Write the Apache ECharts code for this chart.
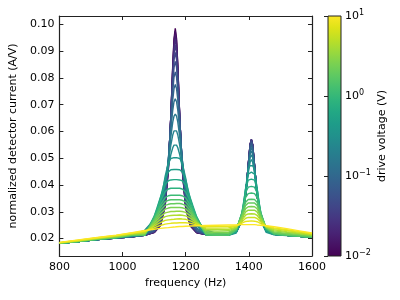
<!DOCTYPE html>
<html><head><meta charset="utf-8">
<script src="https://cdn.jsdelivr.net/npm/echarts@6/dist/echarts.min.js"></script>
<style>html,body{margin:0;padding:0;background:#fff}#c{width:400px;height:300px}</style>
</head><body><div id="c"></div>
<script>
// frequency grid (Hz)
const freq = [800,860,920,980,1030,1070,1100,1120,1135,1145,1153,1159,1163,1167,1171,1175,1181,1189,1200,1215,1235,1265,1300,1335,1360,1378,1390,1398,1404,1408,1412,1418,1426,1438,1455,1480,1520,1560,1600];
// drive voltages (V), one per curve
const voltage = [0.01,0.0132,0.0174,0.0229,0.0302,0.0398,0.0525,0.0692,0.0912,0.120,0.158,0.209,0.275,0.363,0.479,0.631,0.832,1.10,1.45,1.91,2.51,3.31,4.37,5.75,7.59,10.0];
// normalized detector current (A/V) per drive voltage
const v00 = [.0182,.0189,.0196,.0202,.0207,.0212,.0222,.0249,.0322,.0456,.0658,.0847,.0947,.0985,.0947,.0847,.0658,.0456,.0314,.0247,.0222,.0215,.0213,.0213,.0225,.0268,.0362,.0474,.0551,.0569,.0551,.0474,.0362,.0268,.0228,.0216,.0212,.0209,.0206];
const v01 = [.0182,.0189,.0196,.0202,.0207,.0212,.0223,.0250,.0324,.0458,.0657,.0841,.0938,.0975,.0938,.0841,.0657,.0458,.0316,.0247,.0222,.0215,.0213,.0213,.0225,.0268,.0362,.0474,.0551,.0569,.0551,.0474,.0362,.0268,.0228,.0216,.0212,.0209,.0206];
const v02 = [.0182,.0189,.0196,.0202,.0207,.0212,.0223,.0251,.0327,.0461,.0657,.0835,.0927,.0962,.0927,.0835,.0657,.0461,.0319,.0249,.0223,.0215,.0213,.0213,.0225,.0268,.0362,.0474,.0551,.0569,.0551,.0474,.0362,.0268,.0228,.0216,.0212,.0209,.0206];
const v03 = [.0182,.0189,.0196,.0202,.0207,.0212,.0224,.0253,.0331,.0465,.0657,.0826,.0912,.0945,.0912,.0826,.0657,.0465,.0323,.0251,.0223,.0215,.0213,.0213,.0225,.0268,.0362,.0474,.0551,.0569,.0551,.0474,.0362,.0268,.0228,.0216,.0212,.0209,.0206];
const v04 = [.0182,.0189,.0196,.0202,.0207,.0213,.0225,.0256,.0336,.0470,.0654,.0812,.0892,.0922,.0892,.0812,.0654,.0470,.0327,.0253,.0224,.0215,.0213,.0213,.0225,.0268,.0362,.0474,.0551,.0569,.0551,.0474,.0362,.0268,.0228,.0216,.0212,.0209,.0206];
const v05 = [.0182,.0189,.0196,.0202,.0207,.0213,.0226,.0259,.0342,.0475,.0651,.0797,.0868,.0895,.0868,.0797,.0651,.0475,.0334,.0257,.0226,.0215,.0213,.0213,.0225,.0268,.0362,.0474,.0551,.0569,.0551,.0474,.0362,.0268,.0228,.0216,.0212,.0209,.0206];
const v06 = [.0182,.0189,.0196,.0202,.0207,.0214,.0228,.0264,.0350,.0481,.0645,.0776,.0839,.0862,.0839,.0776,.0645,.0481,.0341,.0261,.0227,.0215,.0213,.0214,.0225,.0268,.0362,.0472,.0546,.0564,.0546,.0472,.0362,.0268,.0229,.0216,.0212,.0209,.0206];
const v07 = [.0182,.0189,.0196,.0202,.0207,.0215,.0231,.0271,.0361,.0488,.0638,.0751,.0803,.0822,.0803,.0751,.0638,.0488,.0352,.0267,.0230,.0216,.0213,.0214,.0226,.0270,.0363,.0470,.0541,.0558,.0541,.0470,.0363,.0270,.0229,.0216,.0212,.0209,.0206];
const v08 = [.0182,.0189,.0196,.0203,.0208,.0216,.0235,.0279,.0373,.0494,.0625,.0718,.0760,.0775,.0760,.0718,.0625,.0494,.0363,.0276,.0234,.0217,.0213,.0214,.0227,.0272,.0365,.0467,.0534,.0550,.0534,.0467,.0365,.0272,.0230,.0216,.0212,.0209,.0206];
const v09 = [.0182,.0189,.0196,.0203,.0208,.0218,.0241,.0290,.0385,.0497,.0606,.0679,.0711,.0722,.0711,.0679,.0606,.0497,.0376,.0286,.0239,.0219,.0214,.0215,.0229,.0275,.0366,.0464,.0526,.0540,.0526,.0464,.0366,.0276,.0232,.0217,.0212,.0209,.0206];
const v10 = [.0182,.0189,.0196,.0203,.0209,.0221,.0248,.0303,.0397,.0494,.0580,.0635,.0657,.0665,.0657,.0635,.0580,.0494,.0388,.0299,.0247,.0222,.0215,.0216,.0231,.0278,.0368,.0459,.0515,.0528,.0515,.0459,.0368,.0279,.0233,.0218,.0212,.0209,.0206];
const v11 = [.0182,.0189,.0196,.0204,.0211,.0225,.0258,.0317,.0405,.0484,.0549,.0587,.0602,.0607,.0602,.0587,.0549,.0484,.0398,.0313,.0256,.0226,.0216,.0217,.0233,.0282,.0369,.0453,.0502,.0513,.0502,.0452,.0369,.0283,.0235,.0218,.0212,.0209,.0206];
const v12 = [.0182,.0189,.0197,.0204,.0213,.0231,.0270,.0331,.0407,.0469,.0514,.0539,.0549,.0552,.0549,.0539,.0514,.0469,.0402,.0327,.0268,.0232,.0218,.0219,.0236,.0287,.0370,.0444,.0485,.0495,.0485,.0444,.0370,.0287,.0238,.0219,.0213,.0210,.0206];
const v13 = [.0182,.0189,.0196,.0203,.0209,.0212,.0252,.0329,.0433,.0483,.0499,.0502,.0502,.0502,.0502,.0502,.0499,.0483,.0426,.0323,.0250,.0214,.0212,.0212,.0221,.0266,.0387,.0461,.0472,.0472,.0472,.0461,.0387,.0267,.0223,.0214,.0211,.0209,.0206];
const v14 = [.0182,.0189,.0196,.0203,.0210,.0212,.0270,.0352,.0424,.0449,.0457,.0458,.0458,.0458,.0458,.0458,.0457,.0449,.0420,.0346,.0268,.0214,.0212,.0212,.0223,.0279,.0390,.0441,.0447,.0448,.0447,.0441,.0390,.0279,.0227,.0215,.0212,.0209,.0206];
const v15 = [.0182,.0189,.0197,.0204,.0212,.0212,.0282,.0354,.0401,.0416,.0419,.0420,.0420,.0420,.0420,.0420,.0419,.0416,.0399,.0350,.0280,.0214,.0212,.0212,.0227,.0294,.0387,.0418,.0422,.0422,.0422,.0418,.0386,.0294,.0232,.0216,.0212,.0209,.0206];
const v16 = [.0182,.0189,.0197,.0204,.0213,.0212,.0282,.0341,.0376,.0385,.0388,.0388,.0388,.0388,.0388,.0388,.0388,.0385,.0374,.0339,.0280,.0214,.0212,.0212,.0230,.0297,.0372,.0392,.0395,.0395,.0395,.0392,.0371,.0297,.0235,.0217,.0212,.0209,.0206];
const v17 = [.0182,.0189,.0197,.0204,.0212,.0212,.0276,.0326,.0353,.0360,.0362,.0362,.0362,.0362,.0362,.0362,.0362,.0360,.0352,.0324,.0274,.0214,.0212,.0212,.0232,.0296,.0354,.0368,.0370,.0370,.0370,.0368,.0354,.0296,.0237,.0217,.0212,.0209,.0206];
const v18 = [.0182,.0189,.0197,.0204,.0212,.0212,.0273,.0316,.0338,.0343,.0345,.0345,.0345,.0345,.0345,.0345,.0345,.0343,.0337,.0314,.0271,.0214,.0212,.0212,.0233,.0292,.0336,.0346,.0347,.0347,.0347,.0346,.0336,.0292,.0239,.0218,.0212,.0209,.0206];
const v19 = [.0183,.0190,.0198,.0205,.0213,.0215,.0268,.0305,.0324,.0328,.0330,.0330,.0330,.0331,.0331,.0331,.0331,.0329,.0324,.0304,.0268,.0219,.0217,.0218,.0236,.0286,.0324,.0333,.0333,.0333,.0333,.0333,.0324,.0286,.0240,.0222,.0216,.0212,.0208];
const v20 = [.0183,.0191,.0199,.0207,.0215,.0217,.0262,.0294,.0310,.0314,.0316,.0316,.0316,.0316,.0316,.0316,.0316,.0315,.0311,.0295,.0264,.0224,.0223,.0223,.0238,.0281,.0312,.0319,.0320,.0320,.0320,.0319,.0312,.0280,.0242,.0225,.0219,.0215,.0210];
const v21 = [.0184,.0192,.0200,.0208,.0216,.0220,.0257,.0283,.0296,.0299,.0301,.0301,.0301,.0302,.0302,.0302,.0302,.0301,.0298,.0285,.0261,.0229,.0228,.0229,.0241,.0275,.0300,.0306,.0306,.0306,.0306,.0306,.0300,.0274,.0243,.0229,.0223,.0218,.0212];
const v22 = [.0184,.0192,.0201,.0209,.0218,.0222,.0251,.0271,.0282,.0285,.0286,.0287,.0287,.0287,.0287,.0287,.0288,.0287,.0285,.0276,.0258,.0234,.0234,.0234,.0243,.0269,.0288,.0292,.0293,.0293,.0293,.0292,.0287,.0268,.0244,.0233,.0226,.0220,.0215];
const v23 = [.0185,.0193,.0202,.0210,.0219,.0225,.0246,.0260,.0268,.0270,.0271,.0272,.0272,.0273,.0273,.0273,.0274,.0273,.0272,.0266,.0255,.0239,.0239,.0240,.0246,.0263,.0276,.0279,.0279,.0279,.0279,.0279,.0275,.0262,.0245,.0237,.0230,.0223,.0217];
const v24 = [.0185,.0194,.0203,.0212,.0221,.0227,.0240,.0249,.0254,.0256,.0257,.0258,.0258,.0258,.0258,.0258,.0259,.0259,.0259,.0257,.0251,.0244,.0245,.0245,.0248,.0258,.0264,.0265,.0266,.0266,.0266,.0265,.0263,.0256,.0247,.0240,.0233,.0226,.0219];
const v25 = [.0186,.0195,.0204,.0213,.0222,.0230,.0235,.0238,.0240,.0241,.0242,.0243,.0243,.0244,.0244,.0244,.0245,.0245,.0246,.0247,.0248,.0249,.0250,.0251,.0251,.0252,.0252,.0252,.0252,.0252,.0252,.0252,.0251,.0250,.0248,.0244,.0237,.0229,.0221];
const curves = [v00,v01,v02,v03,v04,v05,v06,v07,v08,v09,v10,v11,v12,v13,v14,v15,v16,v17,v18,v19,v20,v21,v22,v23,v24,v25];

// tick labels
const xTicks = [800,1000,1200,1400,1600];
const yTicks = [0.02,0.03,0.04,0.05,0.06,0.07,0.08,0.09,0.10];
const cbarTicks = [0.01,0.1,1,10];
const cbarExps = ['\u22122','\u22121','0','1'];
const cbarMinor = [0.02,0.03,0.04,0.05,0.06,0.07,0.08,0.09,0.2,0.3,0.4,0.5,0.6,0.7,0.8,0.9,2,3,4,5,6,7,8,9];

// viridis colour anchors (style)
const viridis = ['#440154','#471365','#482475','#463480','#414487','#3b528b','#355f8d','#2f6c8e','#2a788e','#25848e','#21918c','#1e9c89','#22a884','#2fb47c','#44bf70','#5ec962','#7ad151','#9bd93c','#bddf26','#dfe318','#fde725'];
function hex(c){return [1,3,5].map(i=>parseInt(c.substr(i,2),16));}
function vir(t){
  t=Math.max(0,Math.min(1,t));const n=viridis.length-1;const p=t*n;const i=Math.min(n-1,Math.floor(p));const f=p-i;
  const a=hex(viridis[i]),b=hex(viridis[i+1]);
  return 'rgb('+a.map((v,j)=>Math.round(v+(b[j]-v)*f)).join(',')+')';
}
const FONT='DejaVu Sans';
const ink='#222';
const chart = echarts.init(document.getElementById('c'), null, {renderer:'canvas'});

const lineSeries = curves.map((arr,k)=>({
  type:'line', xAxisIndex:0, yAxisIndex:0, showSymbol:false, symbol:'none', silent:true,
  data: freq.map((x,i)=>[x,arr[i]]),
  lineStyle:{width:1.4, color: vir((Math.log10(voltage[k])+2)/3)},
  z:2
}));

const stops = viridis.map((c,i)=>({offset:i/(viridis.length-1), color:c}));
const lg = Math.log10;

chart.setOption({
  animation:false,
  backgroundColor:'#fff',
  textStyle:{fontFamily:FONT},
  grid:[
    {left:57, top:16, width:255, height:240},
    {left:328, top:16, width:13, height:240}
  ],
  xAxis:[
    {gridIndex:0, type:'value', min:800, max:1600, interval:200, position:'bottom',
     name:'frequency (Hz)', nameLocation:'middle', nameGap:20,
     nameTextStyle:{fontSize:11, color:'#000', fontFamily:FONT},
     axisLine:{show:true, lineStyle:{color:ink, width:1.2}},
     axisTick:{inside:true, length:4, lineStyle:{color:ink}},
     axisLabel:{fontSize:11, color:'#000', margin:6, fontFamily:FONT, formatter:v=>String(v)},
     splitLine:{show:false}},
    {gridIndex:0, type:'value', min:800, max:1600, interval:200, position:'top',
     axisLine:{show:true, lineStyle:{color:ink, width:1.2}},
     axisTick:{inside:true, length:4, lineStyle:{color:ink}},
     axisLabel:{show:false}, splitLine:{show:false}},
    {gridIndex:1, type:'value', min:0, max:1, show:false}
  ],
  yAxis:[
    {gridIndex:0, type:'value', min:0.0135, max:0.1031, position:'left',
     name:'normalized detector current (A/V)', nameLocation:'middle', nameGap:30, nameRotate:90,
     nameTextStyle:{fontSize:11, color:'#000', fontFamily:FONT},
     axisLine:{show:true, lineStyle:{color:ink, width:1.2}},
     axisTick:{inside:true, length:4, lineStyle:{color:ink}, customValues:yTicks},
     axisLabel:{fontSize:11, color:'#000', margin:5, fontFamily:FONT, customValues:yTicks, formatter:v=>v.toFixed(2)},
     splitLine:{show:false}},
    {gridIndex:0, type:'value', min:0.0135, max:0.1031, position:'right',
     axisLine:{show:true, lineStyle:{color:ink, width:1.2}},
     axisTick:{inside:true, length:4, lineStyle:{color:ink}, customValues:yTicks},
     axisLabel:{show:false}, splitLine:{show:false}},
    {gridIndex:1, type:'value', min:-2, max:1, position:'right',
     name:'drive voltage (V)', nameLocation:'middle', nameGap:36, nameRotate:90,
     nameTextStyle:{fontSize:11, color:'#000', fontFamily:FONT},
     axisLine:{show:false},
     axisTick:{inside:true, length:4, lineStyle:{color:ink}, customValues:cbarTicks.map(lg)},
     axisLabel:{margin:4, customValues:cbarTicks.map(lg),
       formatter:v=>{const i=cbarTicks.findIndex(t=>Math.abs(lg(t)-v)<1e-6);return '{b|10}{s|'+(i>=0?cbarExps[i]:'')+'}';},
       rich:{b:{fontSize:11, color:'#000', fontFamily:FONT}, s:{fontSize:8, color:'#000', fontFamily:FONT, padding:[0,0,7,0]}}},
     splitLine:{show:false}},
    {gridIndex:1, type:'value', min:-2, max:1, position:'right',
     axisLine:{show:false},
     axisTick:{inside:true, length:2, lineStyle:{color:ink}, customValues:cbarMinor.map(lg)},
     axisLabel:{show:false}, splitLine:{show:false}}
  ],
  series: lineSeries.concat([{
    type:'custom', xAxisIndex:2, yAxisIndex:2, silent:true, z:1,
    data:[[0,-2]],
    renderItem:(params, api)=>{
      const p0=api.coord([0,-2]), p1=api.coord([1,1]);
      return {type:'rect', shape:{x:p0[0], y:p1[1], width:p1[0]-p0[0], height:p0[1]-p1[1]},
        style:{fill:new echarts.graphic.LinearGradient(0,1,0,0,stops), stroke:ink, lineWidth:1}};
    }
  }])
});
</script></body></html>
